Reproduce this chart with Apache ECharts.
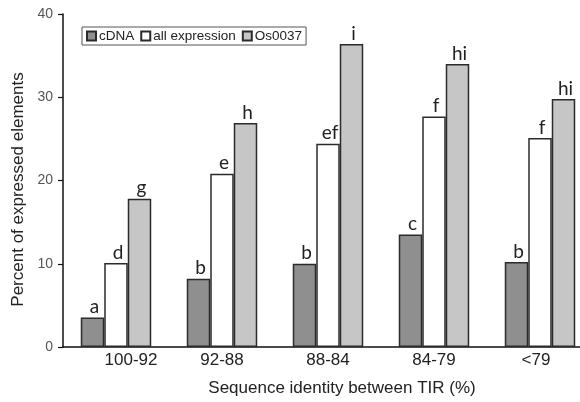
<!DOCTYPE html>
<html>
<head>
<meta charset="utf-8">
<script src="https://cdn.jsdelivr.net/npm/echarts@6/dist/echarts.min.js"></script>
<style>
html,body{margin:0;padding:0;background:#fff;overflow:hidden;width:580px;height:402px;}
#c{width:600px;height:402px;}
</style>
</head>
<body>
<div id="c"></div>
<script>
var categories = ['100-92', '92-88', '88-84', '84-79', '<79'];
var cdnaValues = [3.55, 8.2, 10.0, 13.5, 10.2];
var allExprValues = [10.1, 20.8, 24.4, 27.7, 25.1];
var os0037Values = [17.8, 26.9, 36.4, 34.0, 29.8];
var cdnaLetters = ['a', 'b', 'b', 'c', 'b'];
var allExprLetters = ['d', 'e', 'ef', 'f', 'f'];
var os0037Letters = ['g', 'h', 'i', 'hi', 'hi'];
var yTicks = [0, 10, 20, 30, 40];

var chart = echarts.init(document.getElementById('c'), null, {renderer: 'canvas'});
var font = 'Liberation Sans, Arial, sans-serif';

function barSeries(name, values, letters, color) {
  return {
    name: name,
    type: 'bar',
    data: values,
    barGap: '0%',
    barCategoryGap: '33.5%',
    itemStyle: {color: color, borderColor: '#2b2b2b', borderWidth: 1.5},
    label: {
      show: true,
      position: 'top',
      distance: 1,
      offset: [2, 0],
      color: '#222',
      fontFamily: 'Lato, Open Sans, sans-serif',
      fontSize: 19,
      formatter: function (p) { return letters[p.dataIndex]; }
    },
    emphasis: {disabled: true}
  };
}

chart.setOption({
  animation: false,
  backgroundColor: '#fff',
  grid: {left: 63, top: 14, width: 530, height: 333.5},
  legend: {
    left: 82, top: 27,
    orient: 'horizontal',
    borderColor: '#555', borderWidth: 1,
    padding: [2, 4, 2, 4],
    itemWidth: 9, itemHeight: 9, itemGap: 6,
    icon: 'rect',
    textStyle: {fontFamily: font, fontSize: 13.5, color: '#222', padding: [0, 0, 0, -2]},
    data: ['cDNA', 'all expression', 'Os0037']
  },
  xAxis: {
    type: 'category',
    data: categories,
    axisLine: {lineStyle: {color: '#111', width: 1.5}},
    axisTick: {show: false},
    axisLabel: {
      interval: 0,
      hideOverlap: false,
      margin: 5,
      color: '#222',
      fontFamily: font,
      fontSize: 17,
      formatter: function (v, i) {
        if (i === 0) return '{first|' + v + '}';
        if (i === categories.length - 1) return '{last|' + v + '}';
        return '{n|' + v + '}';
      },
      rich: {
        first: {padding: [0, 0, 0, 30], fontFamily: font, fontSize: 17, color: '#222'},
        last: {padding: [0, 8, 0, 0], fontFamily: font, fontSize: 17, color: '#222'},
        n: {fontFamily: font, fontSize: 17, color: '#222'}
      }
    },
    name: 'Sequence identity between TIR (%)',
    nameLocation: 'middle',
    nameGap: 33,
    nameTextStyle: {fontFamily: font, fontSize: 17, color: '#222', padding: [0, 0, 0, 28]}
  },
  yAxis: {
    type: 'value',
    min: yTicks[0],
    max: yTicks[yTicks.length - 1],
    interval: 10,
    axisLine: {show: true, lineStyle: {color: '#111', width: 1.5}},
    axisTick: {show: true, length: 5, lineStyle: {color: '#111', width: 1.2}},
    splitLine: {show: false},
    axisLabel: {margin: 10, color: '#555', fontFamily: font, fontSize: 14},
    name: 'Percent of expressed elements',
    nameLocation: 'middle',
    nameGap: 36,
    nameTextStyle: {fontFamily: font, fontSize: 17, color: '#222', padding: [0, 18, 0, 0]}
  },
  series: [
    barSeries('cDNA', cdnaValues, cdnaLetters, '#8f8f8f'),
    barSeries('all expression', allExprValues, allExprLetters, '#ffffff'),
    barSeries('Os0037', os0037Values, os0037Letters, '#c6c6c6')
  ]
});
</script>
</body>
</html>
